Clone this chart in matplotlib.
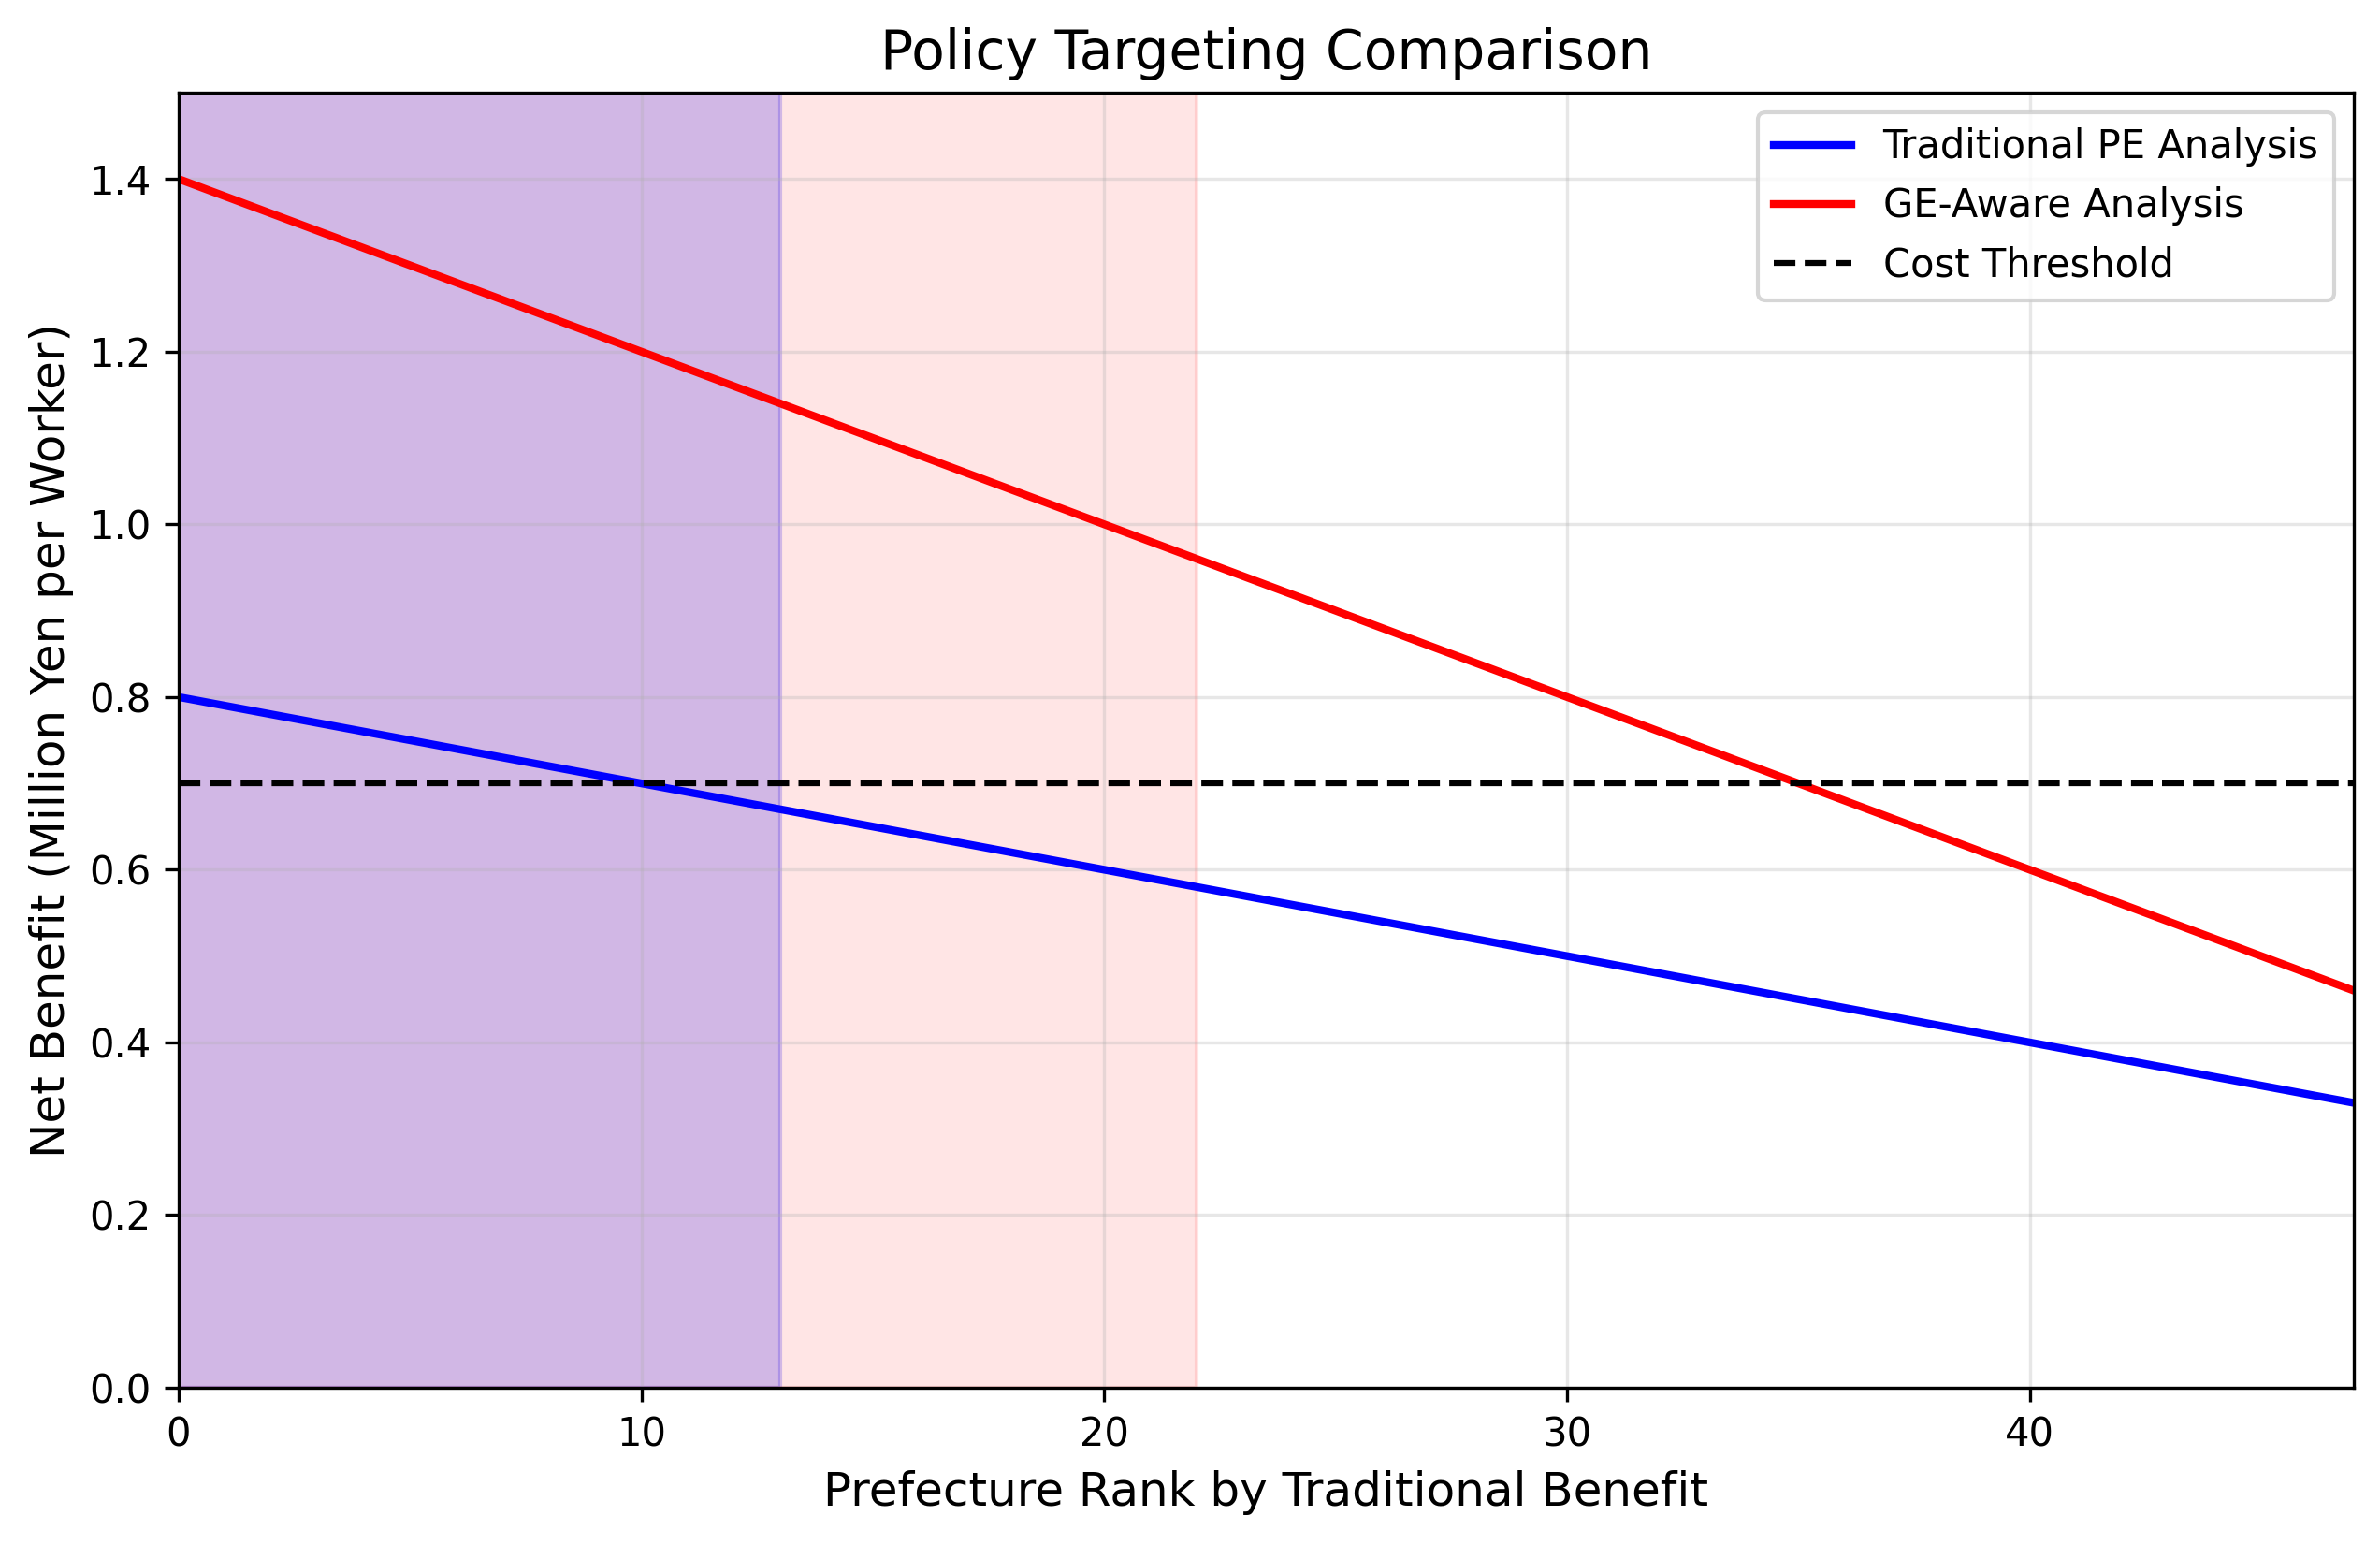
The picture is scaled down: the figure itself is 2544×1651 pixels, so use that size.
import numpy as np
import matplotlib
matplotlib.use("Agg")
import matplotlib.pyplot as plt

# -------------------------------
# Data
# -------------------------------
ranks = [0, 10, 20, 30, 40, 47]
pe_benefit = [0.80, 0.70, 0.60, 0.50, 0.40, 0.33]
ge_benefit = [1.40, 1.20, 1.00, 0.80, 0.60, 0.46]
cost_threshold = 0.7

# number of prefectures above the threshold under each view
pe_selected = 13
ge_selected = 22

fig, ax = plt.subplots(figsize=(2545 / 300, 1651 / 300), dpi=300)
fig.subplots_adjust(left=191 / 2545, right=2516 / 2545, top=1 - 99 / 1651, bottom=1 - 1483 / 1651)

ax.plot(ranks, pe_benefit, color="blue", linewidth=2, label="Traditional PE Analysis")
ax.plot(ranks, ge_benefit, color="red", linewidth=2, label="GE-Aware Analysis")
ax.axhline(cost_threshold, color="black", linestyle="--", linewidth=1.5, label="Cost Threshold")

ax.axvspan(0, pe_selected, alpha=0.2, color="blue")
ax.axvspan(0, ge_selected, alpha=0.1, color="red")

ax.set_xlim(0, 47)
ax.set_ylim(0, 1.5)
ax.set_xlabel("Prefecture Rank by Traditional Benefit", fontsize=12)
ax.set_ylabel("Net Benefit (Million Yen per Worker)", fontsize=12)
ax.set_title("Policy Targeting Comparison", fontsize=14)
ax.legend(loc="upper right")
ax.grid(True, alpha=0.3)

fig.savefig("out.png", dpi=300)
